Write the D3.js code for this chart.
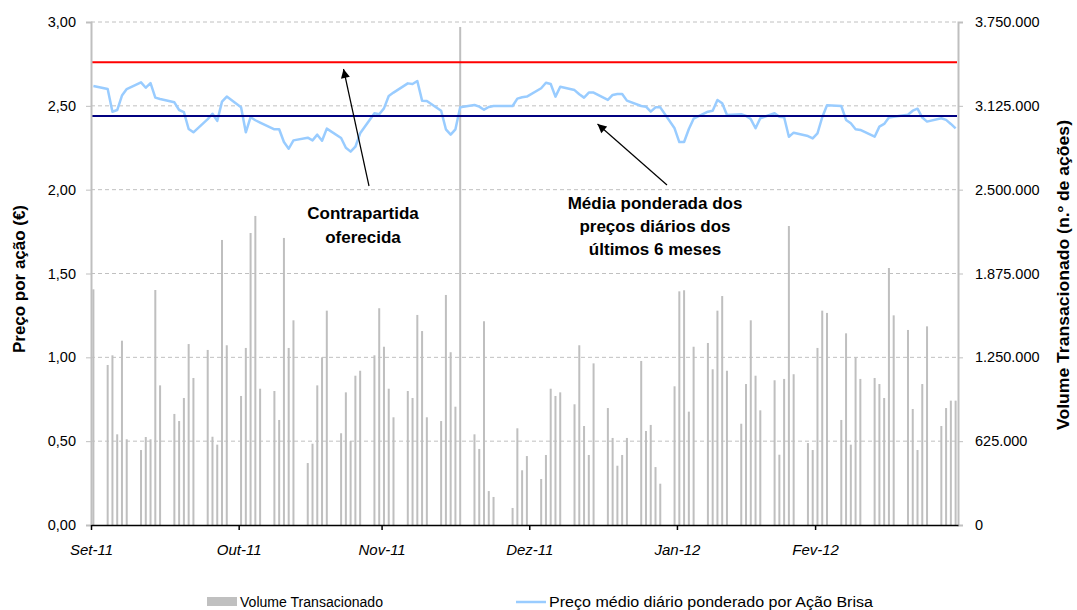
<!DOCTYPE html>
<html><head><meta charset="utf-8">
<script src="https://cdn.jsdelivr.net/npm/d3@7"></script>
<style>body{margin:0;background:#fff}svg{display:block}text{font-family:"Liberation Sans",Arial,sans-serif}</style>
</head><body><svg id="c" width="1077" height="610"></svg>
<script>
const dates = ["2011-09-30",
"2011-10-03","2011-10-04","2011-10-05","2011-10-06","2011-10-07","2011-10-10","2011-10-11","2011-10-12","2011-10-13","2011-10-14",
"2011-10-17","2011-10-18","2011-10-19","2011-10-20","2011-10-21","2011-10-24","2011-10-25","2011-10-26","2011-10-27","2011-10-28","2011-10-31",
"2011-11-01","2011-11-02","2011-11-03","2011-11-04","2011-11-07","2011-11-08","2011-11-09","2011-11-10","2011-11-11","2011-11-14","2011-11-15",
"2011-11-16","2011-11-17","2011-11-18","2011-11-21","2011-11-22","2011-11-23","2011-11-24","2011-11-25","2011-11-28","2011-11-29","2011-11-30",
"2011-12-01","2011-12-02","2011-12-05","2011-12-06","2011-12-07","2011-12-08","2011-12-09","2011-12-12","2011-12-13","2011-12-14","2011-12-15",
"2011-12-16","2011-12-19","2011-12-20","2011-12-21","2011-12-22","2011-12-23","2011-12-27","2011-12-28","2011-12-29","2011-12-30",
"2012-01-02","2012-01-03","2012-01-04","2012-01-05","2012-01-06","2012-01-09","2012-01-10","2012-01-11","2012-01-12","2012-01-13","2012-01-16",
"2012-01-17","2012-01-18","2012-01-19","2012-01-20","2012-01-23","2012-01-24","2012-01-25","2012-01-26","2012-01-27","2012-01-30","2012-01-31",
"2012-02-01","2012-02-02","2012-02-03","2012-02-06","2012-02-07","2012-02-08","2012-02-09","2012-02-10","2012-02-13","2012-02-14","2012-02-15",
"2012-02-16","2012-02-17","2012-02-20","2012-02-21","2012-02-22","2012-02-23","2012-02-24","2012-02-27","2012-02-28","2012-02-29",
"2012-03-01","2012-03-02","2012-03-05","2012-03-06","2012-03-07","2012-03-08","2012-03-09","2012-03-12","2012-03-13","2012-03-14","2012-03-15",
"2012-03-16","2012-03-19","2012-03-20","2012-03-21","2012-03-22","2012-03-23","2012-03-26","2012-03-27","2012-03-28","2012-03-29"];

const volume = [1757000,
1193000,1265000,676000,1374000,639000,559000,656000,639000,1752000,1041000,
828000,775000,947000,1349000,1096000,1305000,658000,599000,2125000,1340000,962000,
1320000,2177000,2304000,1016000,999000,783000,2140000,1320000,1526000,462000,606000,
1041000,1250000,1598000,684000,989000,626000,1113000,1150000,1265000,1616000,1329000,
1016000,803000,999000,947000,1566000,1446000,803000,775000,1715000,1288000,882000,
3713000,676000,567000,1519000,253000,209000,127000,721000,408000,514000,
343000,522000,1016000,962000,989000,900000,1340000,738000,522000,1205000,872000,
649000,442000,522000,649000,1223000,701000,746000,432000,308000,1034000,1742000,
1750000,845000,1329000,1357000,1161000,1598000,1707000,1150000,755000,1051000,1526000,
1113000,855000,1079000,524000,1089000,2229000,1124000,611000,559000,1320000,
1598000,1581000,783000,1429000,599000,1250000,1089000,1096000,1051000,947000,1916000,
1563000,1454000,865000,559000,1051000,1481000,738000,872000,927000,927000];

const price = [2.618,
2.600,2.465,2.475,2.561,2.600,2.640,2.608,2.636,2.549,2.541,
2.521,2.475,2.463,2.362,2.342,2.421,2.453,2.410,2.525,2.555,2.491,
2.342,2.432,2.414,2.400,2.360,2.360,2.284,2.244,2.294,2.310,2.294,
2.328,2.292,2.364,2.308,2.250,2.227,2.256,2.336,2.456,2.450,2.485,
2.559,2.579,2.634,2.630,2.648,2.531,2.529,2.471,2.360,2.328,2.360,
2.491,2.505,2.495,2.477,2.493,2.499,2.499,2.543,2.551,2.555,
2.605,2.638,2.630,2.555,2.614,2.594,2.569,2.549,2.579,2.579,2.535,
2.565,2.571,2.571,2.531,2.499,2.495,2.465,2.491,2.491,2.366,2.284,
2.284,2.362,2.423,2.465,2.471,2.535,2.515,2.445,2.450,2.440,2.421,
2.366,2.426,2.456,2.435,2.432,2.316,2.340,2.320,2.306,2.336,
2.432,2.503,2.499,2.416,2.396,2.360,2.356,2.316,2.376,2.392,2.430,
2.435,2.447,2.471,2.483,2.430,2.406,2.426,2.416,2.392,2.366];

const offerPrice = 2.76;      // Contrapartida oferecida
const avgPrice6m = 2.44;      // Média ponderada 6 meses
const tickDates = ["2011-09-30","2011-10-31","2011-11-30","2011-12-31","2012-01-31","2012-02-29"];
const tickLabels = ["Set-11","Out-11","Nov-11","Dez-11","Jan-12","Fev-12"];
const domainDates = ["2011-09-30","2012-03-30"];
const priceTicks = [0,0.5,1,1.5,2,2.5,3];
const volumeTicks = [0,625000,1250000,1875000,2500000,3125000,3750000];
const leftTitle = "Preço por ação (€)";
const rightTitle = "Volume Transacionado (n.º de ações)";
const note1 = ["Contrapartida","oferecida"];
const note2 = ["Média ponderada dos","preços diários dos","últimos 6 meses"];
const legendLabels = ["Volume Transacionado","Preço médio diário ponderado por Ação Brisa"];

const L = 91, R = 958, T = 22, B = 525;
const parse = d3.utcParse("%Y-%m-%d");
const loc = d3.formatLocale({decimal:",", thousands:".", grouping:[3], currency:["","€"]});
const fPrice = loc.format(",.2f"), fVol = loc.format(",.0f");

const x = d3.scaleUtc().domain(domainDates.map(parse)).range([L, R]);
const yP = d3.scaleLinear().domain([0,3]).range([B, T]);
const yV = d3.scaleLinear().domain([0,3750000]).range([B, T]);
const xc = d => x(d3.utcHour.offset(parse(d), 12));

const svg = d3.select("#c");

// gridlines
svg.append("g").selectAll("line").data(priceTicks.filter(v=>v>0)).join("line")
  .attr("x1", L).attr("x2", R).attr("y1", d=>yP(d)).attr("y2", d=>yP(d))
  .attr("stroke", "#c0c0c0").attr("stroke-width", 1).attr("stroke-dasharray", "4,3");

// bars
svg.append("g").selectAll("rect").data(dates).join("rect")
  .attr("x", d => xc(d) - 1).attr("width", 2)
  .attr("y", (d,i) => yV(volume[i])).attr("height", (d,i) => B - yV(volume[i]))
  .attr("fill", "#bfbfbf");

// price line
svg.append("path").datum(dates)
  .attr("d", d3.line().x(d => xc(d)).y((d,i) => yP(price[i])))
  .attr("fill", "none").attr("stroke", "#99ccff").attr("stroke-width", 2.5).attr("stroke-linejoin","round");

// reference lines
svg.append("line").attr("x1", L+1).attr("x2", R-1).attr("y1", yP(offerPrice)).attr("y2", yP(offerPrice))
  .attr("stroke", "#ff0000").attr("stroke-width", 2);
svg.append("line").attr("x1", L+1).attr("x2", R-1).attr("y1", yP(avgPrice6m)).attr("y2", yP(avgPrice6m))
  .attr("stroke", "#000080").attr("stroke-width", 2);

// axes
const leftAxis = svg.append("g").attr("transform", `translate(${L},0)`)
  .call(d3.axisLeft(yP).tickValues(priceTicks).tickFormat(fPrice).tickSize(5).tickPadding(10));
const rightAxis = svg.append("g").attr("transform", `translate(${R},0)`)
  .call(d3.axisRight(yV).tickValues(volumeTicks).tickFormat(fVol).tickSize(5).tickPadding(12));
[leftAxis, rightAxis].forEach(g => {
  g.select(".domain").attr("stroke", "#bfbfbf").attr("stroke-width", 2);
  g.selectAll(".tick line").attr("stroke", "#bfbfbf");
  g.selectAll(".tick text").attr("font-size", 14.5).attr("fill", "#000").style("font-family","Liberation Sans, Arial, sans-serif");
});
const bottomAxis = svg.append("g").attr("transform", `translate(0,${B})`)
  .call(d3.axisBottom(x).tickValues(tickDates.map(parse)).tickFormat((d,i)=>tickLabels[i]).tickSize(5).tickSizeOuter(0).tickPadding(14));
bottomAxis.select(".domain").attr("stroke", "#000").attr("stroke-width", 1.5);
bottomAxis.selectAll(".tick line").attr("stroke", "#000").attr("stroke-width", 1.5);
bottomAxis.selectAll(".tick text").attr("font-size", 15).attr("font-style","italic").attr("fill","#000")
  .style("font-family","Liberation Sans, Arial, sans-serif");

// axis titles
svg.append("text").attr("transform","translate(25,279) rotate(-90)").attr("text-anchor","middle")
  .attr("font-size",16).attr("font-weight","bold").attr("textLength",148).attr("lengthAdjust","spacingAndGlyphs").text(leftTitle);
svg.append("text").attr("transform","translate(1069,275) rotate(-90)").attr("text-anchor","middle")
  .attr("font-size",16).attr("font-weight","bold").attr("textLength",310).attr("lengthAdjust","spacingAndGlyphs").text(rightTitle);

// annotations
const n1 = svg.append("text").attr("text-anchor","middle").attr("font-size",17).attr("font-weight","bold");
note1.forEach((t,i)=> n1.append("tspan").attr("x",363).attr("y",219+i*24).text(t));
const n2 = svg.append("text").attr("text-anchor","middle").attr("font-size",17).attr("font-weight","bold");
note2.forEach((t,i)=> n2.append("tspan").attr("x",655).attr("y",209+i*23).text(t));

svg.append("defs").append("marker").attr("id","ah").attr("viewBox","0 0 10 10").attr("refX",10).attr("refY",5)
  .attr("markerWidth",10).attr("markerHeight",9).attr("markerUnits","userSpaceOnUse").attr("orient","auto")
  .append("path").attr("d","M0,0L10,5L0,10z").attr("fill","#000");
svg.append("line").attr("x1",369).attr("y1",186).attr("x2",343.5).attr("y2",69)
  .attr("stroke","#000").attr("stroke-width",1.2).attr("marker-end","url(#ah)");
svg.append("line").attr("x1",667).attr("y1",185).attr("x2",597.5).attr("y2",124)
  .attr("stroke","#000").attr("stroke-width",1.2).attr("marker-end","url(#ah)");

// legend
svg.append("rect").attr("x",207).attr("y",597).attr("width",30).attr("height",9).attr("fill","#c0c0c0");
svg.append("text").attr("x",240).attr("y",607).attr("font-size",14).attr("textLength",143).attr("lengthAdjust","spacingAndGlyphs").text(legendLabels[0]);
svg.append("line").attr("x1",516).attr("x2",546).attr("y1",602).attr("y2",602).attr("stroke","#99ccff").attr("stroke-width",2.5);
svg.append("text").attr("x",549).attr("y",607).attr("font-size",14).attr("textLength",324).attr("lengthAdjust","spacingAndGlyphs").text(legendLabels[1]);
</script></body></html>
